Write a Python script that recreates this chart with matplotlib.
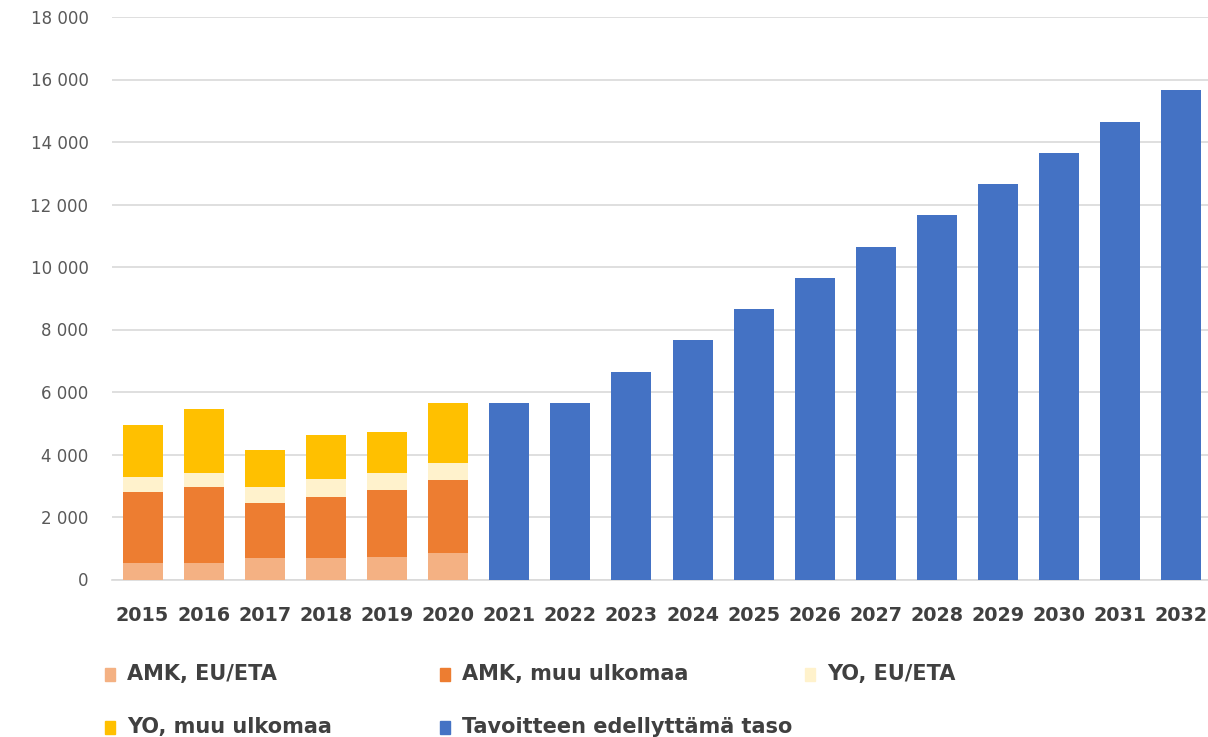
import numpy as np
import matplotlib
matplotlib.use("Agg")
import matplotlib.pyplot as plt
from matplotlib.patches import Rectangle

years = [str(y) for y in range(2015, 2033)]
hist_years = years[:6]

amk_eu = [520, 520, 680, 680, 730, 840]
amk_muu = [2280, 2450, 1780, 1970, 2120, 2350]
yo_eu = [470, 430, 510, 560, 560, 550]
yo_muu = [1680, 2050, 1180, 1410, 1320, 1900]
target = [5650, 5650, 6650, 7650, 8650, 9650, 10650, 11650, 12650, 13650, 14650, 15650]

labels = ["AMK, EU/ETA", "AMK, muu ulkomaa", "YO, EU/ETA",
          "YO, muu ulkomaa", "Tavoitteen edellyttämä taso"]
colors = ["#F4B183", "#ED7D31", "#FFF2CC", "#FFC000", "#4472C4"]

plt.rcParams['font.family'] = ['DejaVu Sans']

fig = plt.figure(figsize=(12.08, 7.37), dpi=100)
ax = fig.add_axes([112 / 1208, 1 - 579.5 / 737, 1100 / 1208, (579.5 - 17) / 737])

x = np.arange(len(years))
w = 0.655
bottom = np.zeros(len(hist_years))
for vals, c in zip([amk_eu, amk_muu, yo_eu, yo_muu], colors[:4]):
    ax.bar(x[:6], vals, w, bottom=bottom, color=c, zorder=3)
    bottom += np.array(vals)
ax.bar(x[6:], target, w, color=colors[4], zorder=3)

ax.set_xlim(-0.5, len(years) - 0.5)
ax.set_ylim(0, 18000)
ax.set_yticks(range(0, 18001, 2000))
ax.set_yticklabels([f"{v:,}".replace(",", " ") for v in range(0, 18001, 2000)])
ax.set_xticks(x)
ax.set_xticklabels(years)
ax.grid(axis='y', color='#d9d9d9', linewidth=1.2, zorder=0)
for s in ['top', 'right', 'left']:
    ax.spines[s].set_visible(False)
ax.spines['bottom'].set_color('#d9d9d9')
ax.spines['bottom'].set_linewidth(1.2)
ax.tick_params(axis='both', length=0)
ax.tick_params(axis='y', labelsize=12, labelcolor='#595959', pad=17)
ax.tick_params(axis='x', labelsize=13.8, labelcolor='#404040', pad=19)
for t in ax.get_xticklabels():
    t.set_fontweight('bold')

# legend laid out like the original grid
pos = [(105, 674), (440, 674), (805, 674), (105, 727), (440, 727)]
for (px, py), lab, c in zip(pos, labels, colors):
    fig.patches.append(Rectangle((px / 1208, 1 - (py + 7) / 737), 10 / 1208, 13 / 737,
                                 transform=fig.transFigure, color=c))
    fig.text((px + 22) / 1208, 1 - py / 737, lab, fontsize=15, color='#404040',
             fontweight='bold', va='center', ha='left')

fig.savefig("out.png", dpi=100)
